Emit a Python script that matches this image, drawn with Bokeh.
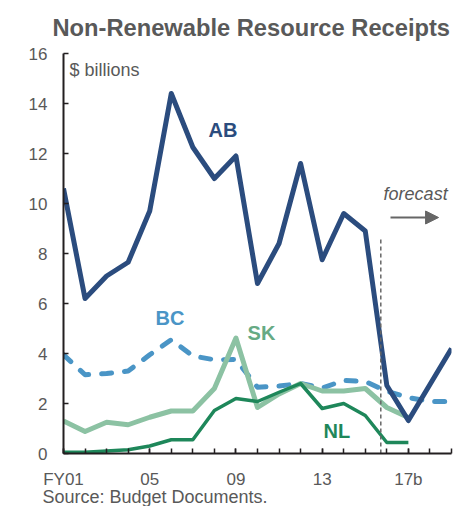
from bokeh.plotting import figure
from bokeh.models import Range1d, FixedTicker, Label, Arrow, NormalHead, Title
from bokeh.embed import file_html
from bokeh.resources import INLINE

# ---- data ----
years = list(range(2001, 2020))
ab = [10.6, 6.2, 7.1, 7.65, 9.7, 14.4, 12.25, 11.0, 11.9, 6.8, 8.4, 11.6, 7.75, 9.6, 8.9, 2.72, 1.32, 2.76, 4.2]
bc = [3.95, 3.15, 3.2, 3.3, 3.95, 4.55, 3.9, 3.75, 3.76, 2.65, 2.7, 2.8, 2.62, 2.92, 2.88, 2.49, 2.24, 2.08, 2.08]
hist_years = list(range(2001, 2018))
sk = [1.3, 0.88, 1.25, 1.15, 1.45, 1.7, 1.7, 2.6, 4.62, 1.84, 2.38, 2.8, 2.5, 2.5, 2.6, 1.84, 1.44]
nl = [0.05, 0.05, 0.1, 0.15, 0.3, 0.55, 0.55, 1.72, 2.2, 2.08, 2.45, 2.8, 1.8, 2.0, 1.52, 0.44, 0.44]
tick_years = [2001, 2005, 2009, 2013, 2017]
tick_labels = ["FY01", "05", "09", "13", "17b"]
y_ticks = list(range(0, 17, 2))
forecast_start = 2015.72
forecast_top = 8.6

FONT = "Liberation Sans"
GRAY = "#595959"
AXIS = "#231f20"
C_AB = "#2b4c7e"
C_BC = "#4a95c6"
C_SK = "#8cc2a3"
C_SK_LBL = "#66aa84"
C_NL = "#1e875a"

p = figure(width=466, height=506, output_backend="svg", toolbar_location=None,
           x_range=Range1d(2001, 2019), y_range=Range1d(0, 16),
           min_border_left=63, min_border_right=15, min_border_top=53,
           min_border_bottom=53)
p.outline_line_color = None
p.grid.visible = False
p.background_fill_color = "white"
p.border_fill_color = "white"

p.title.text = "Non-Renewable Resource Receipts"
p.title.text_font = FONT
p.title.text_font_style = "bold"
p.title.text_font_size = "23.7px"
p.title.text_color = GRAY
p.title.align = "left"
p.title.offset = -11
p.title.standoff = 24
p.title.vertical_align = "middle"

xa = p.xaxis[0]
xa.ticker = FixedTicker(ticks=tick_years, minor_ticks=years)
xa.major_label_overrides = {t: l for t, l in zip(tick_years, tick_labels)}
ya = p.yaxis[0]
ya.ticker = FixedTicker(ticks=y_ticks)
for ax in (xa, ya):
    ax.axis_line_color = AXIS
    ax.axis_line_width = 2
    ax.major_tick_line_color = AXIS
    ax.minor_tick_line_color = AXIS
    ax.major_tick_line_width = 1.5
    ax.minor_tick_line_width = 1.5
    ax.major_tick_in = 5
    ax.major_tick_out = 0
    ax.minor_tick_in = 5
    ax.minor_tick_out = 0
    ax.major_label_text_font = FONT
    ax.major_label_text_font_size = "17px"
    ax.major_label_text_color = GRAY
xa.major_label_standoff = 16
ya.major_label_standoff = 16

p.add_layout(Title(text="Source: Budget Documents.", text_font=FONT,
                   text_font_size="18px", text_font_style="normal",
                   text_color=GRAY, align="left", offset=-21, standoff=-14), "below")

# ---- series ----
p.line(years, bc, line_color=C_BC, line_width=5, line_dash="10 13",
       line_cap="round", line_join="round")
p.line(hist_years, sk, line_color=C_SK, line_width=5, line_join="round")
p.line(hist_years, nl, line_color=C_NL, line_width=3.5, line_join="round")
p.line(years, ab, line_color=C_AB, line_width=5, line_join="round")

# forecast marker
p.segment(x0=[forecast_start], y0=[0], x1=[forecast_start], y1=[forecast_top],
          line_color="#666666", line_width=1.5, line_dash="4 3")
p.add_layout(Arrow(end=NormalHead(size=13, fill_color="#666666", line_color="#666666"),
                   x_start=2016.17, y_start=9.44, x_end=2018.4, y_end=9.44,
                   line_color="#666666", line_width=2))
p.add_layout(Label(x=2015.85, y=10.4, text="forecast", text_font=FONT,
                   text_font_style="italic", text_font_size="18px",
                   text_color=GRAY, text_baseline="middle"))

# series labels
def lbl(x, y, t, c):
    p.add_layout(Label(x=x, y=y, text=t, text_font=FONT, text_font_style="bold",
                       text_font_size="20px", text_color=c, text_baseline="middle"))

lbl(2007.73, 12.96, "AB", C_AB)
lbl(2005.27, 5.42, "BC", C_BC)
lbl(2009.54, 4.84, "SK", C_SK_LBL)
lbl(2013.06, 0.92, "NL", C_NL)

p.add_layout(Label(x=2001.28, y=15.35, text="$ billions", text_font=FONT,
                   text_font_size="18px", text_color=GRAY, text_baseline="middle"))

open("out.html", "w").write(file_html(p, INLINE))
